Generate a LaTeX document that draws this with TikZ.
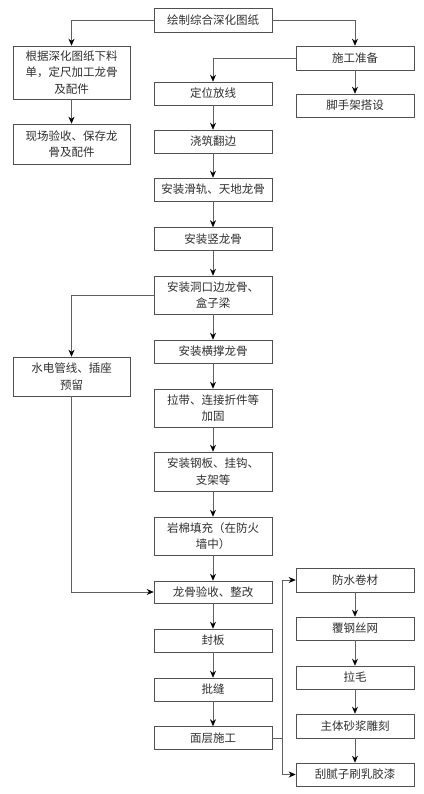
\documentclass[tikz,border=0pt]{standalone}
\usepackage{fontspec}
\newfontfamily\cjk{Noto Sans CJK SC}
\usetikzlibrary{arrows.meta}
\definecolor{boxline}{HTML}{505050}
\definecolor{linkline}{HTML}{606060}
\definecolor{txt}{HTML}{303030}

\begin{document}
\begin{tikzpicture}[
  x=1pt, y=-1pt,
  >={Stealth[length=7pt, width=6pt, color=black]},
  every node/.style={text=txt, font=\cjk\fontsize{11.5}{16.5}\selectfont},
  stepbox/.style={draw=boxline, line width=0.6pt, fill=white, align=center,
    minimum width=118pt, minimum height=23pt, inner sep=2pt},
  link/.style={draw=linkline, line width=0.6pt, ->},
]

% Canvas
\useasboundingbox (0,0) rectangle (423,794);

% Top and left branch
\node[stepbox, minimum height=24pt] (huizhi) at (213,20) {绘制综合深化图纸};
\node[stepbox, minimum width=117pt, minimum height=53pt] (xialiao) at (71.5,72.5)
  {根据深化图纸下料\\单，定尺加工龙骨\\及配件};
\node[stepbox, minimum width=117pt, minimum height=40pt] (yanshoupj) at (71.5,144)
  {现场验收、保存龙\\骨及配件};

% Right branch
\node[stepbox, minimum height=24pt] (zhunbei) at (355,58) {施工准备};
\node[stepbox] (jiaoshoujia) at (355,105.5) {脚手架搭设};

% Main column
\node[stepbox] (dingwei) at (213,93.5) {定位放线};
\node[stepbox] (fanbian) at (213,141.5) {浇筑翻边};
\node[stepbox] (huagui) at (213,189.5) {安装滑轨、天地龙骨};
\node[stepbox] (shulonggu) at (213,239) {安装竖龙骨};
\node[stepbox, minimum height=38pt] (dongkou) at (213,295) {安装洞口边龙骨、\\盒子梁};
\node[stepbox] (hengcheng) at (213,351.5) {安装横撑龙骨};
\node[stepbox, minimum height=38pt] (ladai) at (213,408) {拉带、连接折件等\\加固};
\node[stepbox, minimum height=39pt] (gangban) at (213,471.5) {安装钢板、挂钩、\\支架等};
\node[stepbox, minimum height=38pt] (yanmian) at (213,536) {岩棉填充（在防火\\墙中）};
\node[stepbox, minimum height=22pt] (yanshou) at (213,592) {龙骨验收、整改};
\node[stepbox] (fengban) at (213,640.5) {封板};
\node[stepbox] (pifeng) at (213,689.5) {批缝};
\node[stepbox] (mianceng) at (213,738) {面层施工};

% Side box for pipes
\node[stepbox, minimum width=117pt, minimum height=39pt] (shuidian) at (71.5,376.5)
  {水电管线、插座\\预留};

% Finishing column
\node[stepbox, minimum height=24pt] (fangshui) at (355,580) {防水卷材};
\node[stepbox] (gangsi) at (355,628.5) {覆钢丝网};
\node[stepbox] (lamao) at (355,677.5) {拉毛};
\node[stepbox, minimum height=24pt] (diaoke) at (355,726) {主体砂浆雕刻};
\node[stepbox] (guanizi) at (355,774.5) {刮腻子刷乳胶漆};

% Connectors
\draw[link] (huizhi.west) -| (xialiao.north);
\draw[link] (huizhi.east) -| (zhunbei.north);
\draw[link] (xialiao) -- (yanshoupj);
\draw[link] (zhunbei) -- (jiaoshoujia);
\draw[link] (zhunbei.west) -| (dingwei.north);
\foreach \a/\b in {dingwei/fanbian, fanbian/huagui, huagui/shulonggu,
  shulonggu/dongkou, dongkou/hengcheng, hengcheng/ladai, ladai/gangban,
  gangban/yanmian, yanmian/yanshou, yanshou/fengban, fengban/pifeng,
  pifeng/mianceng, fangshui/gangsi, gangsi/lamao, lamao/diaoke, diaoke/guanizi}
  \draw[link] (\a) -- (\b);
\draw[link] (dongkou.west) -| (shuidian.north);
\draw[link] (shuidian.south) |- (yanshou.west);
\draw[linkline, line width=0.6pt] (mianceng.east) -- ++(10,0) coordinate (fork);
\draw[link] (fork) |- (fangshui.west);
\draw[link] (fork) |- (guanizi.west);

\end{tikzpicture}
\end{document}
